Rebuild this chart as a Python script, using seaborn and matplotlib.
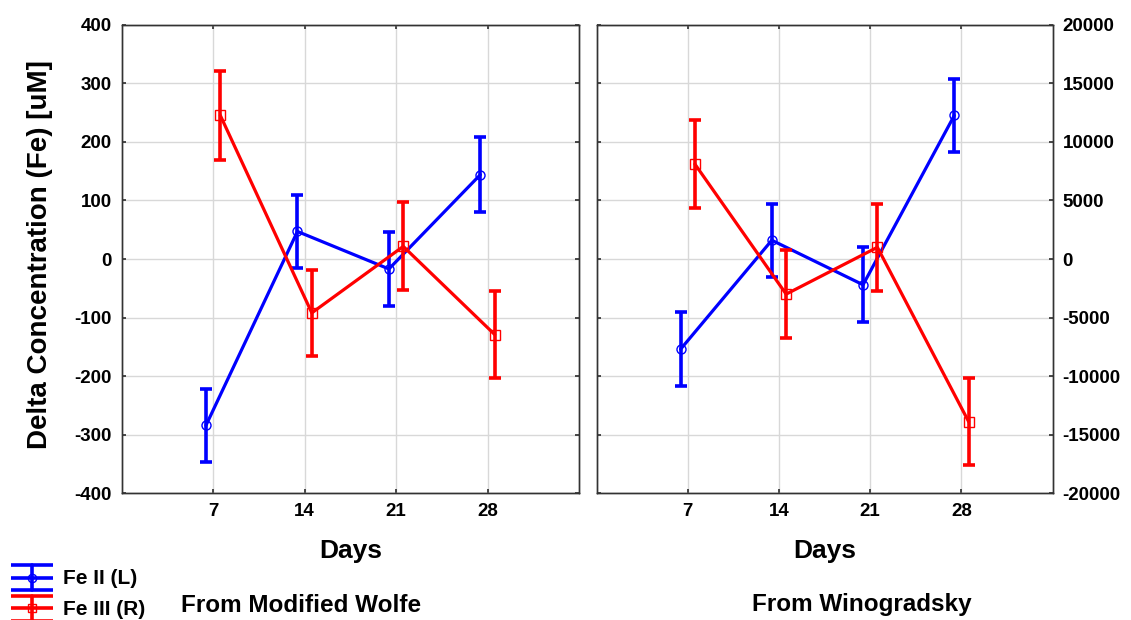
import numpy as np
import pandas as pd
import seaborn as sns
import matplotlib
matplotlib.use("Agg")
import matplotlib.pyplot as plt
from matplotlib.lines import Line2D
from matplotlib.legend_handler import HandlerBase

# ---- data ----
days = [7, 14, 21, 28]
wolfe_fe2 = [-284, 47, -17, 144]
wolfe_fe2_err = [62, 63, 63, 64]
wolfe_fe3 = [12250, -4600, 1075, -6450]
wolfe_fe3_err = [3800, 3700, 3750, 3750]
wino_fe2 = [-154, 32, -44, 245]
wino_fe2_err = [63, 62, 64, 63]
wino_fe3 = [8100, -3000, 1000, -13880]
wino_fe3_err = [3780, 3750, 3730, 3730]
panel_titles = ["From Modified Wolfe", "From Winogradsky"]
legend_labels = ["Fe II (L)", "Fe III (R)"]
left_ticks = list(range(-400, 401, 100))
right_ticks = list(range(-20000, 20001, 5000))

sns.set_theme(style="white")
plt.rcParams['font.family'] = ['Liberation Sans', 'DejaVu Sans']
plt.rcParams['font.weight'] = 'bold'
plt.rcParams['text.color'] = 'black'
plt.rcParams['axes.unicode_minus'] = False

BLUE = (0, 0, 1)
RED = (1, 0, 0)
OFF = 0.55


class ErrHandler(HandlerBase):
    def __init__(self, color, marker):
        super().__init__()
        self.color = color
        self.marker = marker

    def create_artists(self, legend, orig_handle, xdescent, ydescent,
                       width, height, fontsize, trans):
        x0, y0 = -xdescent, -ydescent
        cx, cy = x0 + width / 2, y0 + height / 2
        arts = []
        for yy in (y0, cy, y0 + height):
            arts.append(Line2D([x0, x0 + width], [yy, yy], color=self.color,
                               linewidth=2.6, solid_capstyle="butt"))
        arts.append(Line2D([cx, cx], [y0, y0 + height], color=self.color,
                           linewidth=2.6))
        arts.append(Line2D([cx], [cy], marker=self.marker, markersize=6,
                           markerfacecolor="none", markeredgecolor=self.color,
                           markeredgewidth=1.0, linestyle="none"))
        for a in arts:
            a.set_transform(trans)
        return arts


fig = plt.figure(figsize=(11.31, 6.2), dpi=100)
W, H = 1131, 620
top, bottom = 24.7, 493.3
panels_px = [(121.7, 579), (596.5, 1052.7)]

series = [
    (wolfe_fe2, wolfe_fe2_err, wolfe_fe3, wolfe_fe3_err),
    (wino_fe2, wino_fe2_err, wino_fe3, wino_fe3_err),
]

for i, ((x0, x1), (f2, f2e, f3, f3e)) in enumerate(zip(panels_px, series)):
    ax = fig.add_axes([x0 / W, 1 - bottom / H, (x1 - x0) / W, (bottom - top) / H])
    ax2 = ax.twinx()
    ax.set_xlim(0, 35)
    ax.set_ylim(-400, 400)
    ax2.set_ylim(-20000, 20000)
    ax.set_xticks(days)
    ax.set_xticklabels([str(d) for d in days])
    ax.set_yticks(left_ticks)
    ax2.set_yticks(right_ticks)
    ax.grid(True, color="#d8d8d8", linewidth=1.0)
    ax.set_axisbelow(True)

    df2 = pd.DataFrame({"x": np.array(days) - OFF, "y": f2})
    df3 = pd.DataFrame({"x": np.array(days) + OFF, "y": f3})
    sns.lineplot(data=df2, x="x", y="y", ax=ax, color=BLUE, linewidth=2.3,
                 marker="o", markersize=6.5, markerfacecolor="none",
                 markeredgecolor=BLUE, markeredgewidth=1.0, sort=False)
    ax.errorbar(df2["x"], df2["y"], yerr=f2e, fmt="none", ecolor=BLUE,
                elinewidth=2.6, capsize=4, capthick=2.6)
    sns.lineplot(data=df3, x="x", y="y", ax=ax2, color=RED, linewidth=2.3,
                 marker="s", markersize=6.5, markerfacecolor="none",
                 markeredgecolor=RED, markeredgewidth=1.0, sort=False)
    ax2.errorbar(df3["x"], df3["y"], yerr=f3e, fmt="none", ecolor=RED,
                 elinewidth=2.6, capsize=4, capthick=2.6)

    for a in (ax, ax2):
        a.set_xlabel("")
        a.set_ylabel("")
        for s in a.spines.values():
            s.set_color("#333333")
            s.set_linewidth(1.0)
            s.set_visible(True)
    ax.tick_params(axis="both", which="both", direction="in", length=3,
                   top=True, bottom=True, left=True, right=False,
                   labelsize=13.5, pad=7, colors="#333333", labelcolor="black")
    ax2.tick_params(axis="y", direction="in", length=3, right=True,
                    labelsize=13.5, pad=7, colors="#333333", labelcolor="black")
    for lab in ax.get_xticklabels() + ax.get_yticklabels() + ax2.get_yticklabels():
        lab.set_fontweight("bold")
    if i == 0:
        ax2.set_yticklabels([])
    else:
        ax.set_yticklabels([])

    cx = (x0 + x1) / 2
    fig.text(cx / W, 1 - 551 / H, "Days", ha="center", va="center",
             fontsize=19, fontweight="bold")

fig.text(301 / W, 1 - 605 / H, panel_titles[0], ha="center", va="center",
         fontsize=17.5, fontweight="bold")
fig.text(862 / W, 1 - 605 / H, panel_titles[1], ha="center", va="center",
         fontsize=17.5, fontweight="bold")
fig.text(40 / W, 1 - 255 / H, "Delta Concentration (Fe) [uM]", ha="center",
         va="center", rotation=90, fontsize=20, fontweight="bold")

hb = Line2D([], [], color=BLUE)
hr = Line2D([], [], color=RED)
leg = fig.legend([hb, hr], legend_labels, loc="upper left",
                 bbox_to_anchor=(11 / W, 1 - 565 / H), frameon=False,
                 prop={"size": 15, "weight": "bold"}, handlelength=2.0,
                 handleheight=1.47, handletextpad=0.5, labelspacing=0.27,
                 borderpad=0.0, borderaxespad=0.0,
                 handler_map={hb: ErrHandler(BLUE, "o"), hr: ErrHandler(RED, "s")})

fig.savefig("out.png", dpi=100)
